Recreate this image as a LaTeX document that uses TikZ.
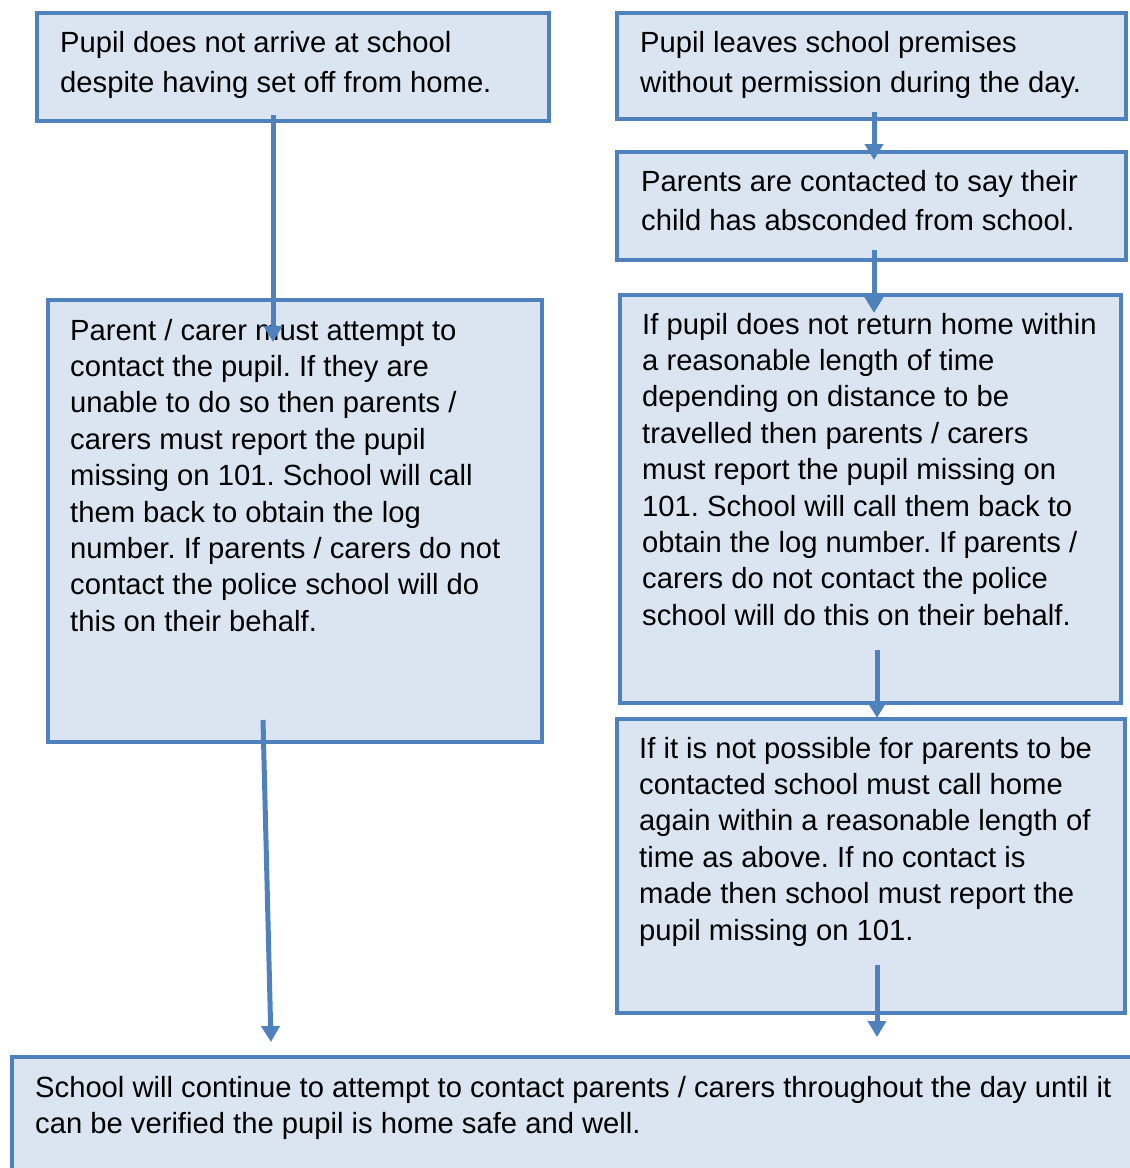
\documentclass[tikz,border=0pt]{standalone}
\usepackage{fontspec}
\setmainfont{Liberation Sans}
\usetikzlibrary{arrows.meta}
\definecolor{boxfill}{HTML}{DBE5F1}
\definecolor{boxline}{HTML}{4F81BD}
\frenchspacing
\begin{document}
\begin{tikzpicture}[x=1pt,y=-1pt,
  flowbox/.style={draw=boxline, fill=boxfill, line width=4pt, inner sep=0pt},
  boxtext/.style={anchor=north west, inner sep=0pt, align=left, font=\frenchspacing\fontsize{29.2}{36.4}\selectfont},
  widetext/.style={anchor=north west, inner sep=0pt, align=left, font=\frenchspacing\fontsize{29.2}{40}\selectfont},
  flowarrow/.style={draw=boxline, line width=5pt, -{Triangle[width=18pt,length=16pt]}}]
\useasboundingbox (0,0) rectangle (1130,1168);
\clip (0,0) rectangle (1130,1168);
% boxes
\node[flowbox, minimum width=512pt, minimum height=108pt] (A) at (293,67) {};
\node[flowbox, minimum width=509pt, minimum height=106pt] (B) at (871.5,66) {};
\node[flowbox, minimum width=509pt, minimum height=108pt] (C) at (871.5,206) {};
\node[flowbox, minimum width=494pt, minimum height=442pt] (D) at (295,521) {};
\node[flowbox, minimum width=501pt, minimum height=408pt] (E) at (870.5,499) {};
\node[flowbox, minimum width=508pt, minimum height=294pt] (F) at (871,866) {};
\node[flowbox, minimum width=1138pt, minimum height=133pt] (G) at (581,1123.5) {};
% texts
\node[widetext] (tA) at (60,24) {\strut Pupil does not arrive at school\\despite having set off from home.};
\node[widetext] (tB) at (640,24) {\strut Pupil leaves school premises\\without permission during the day.};
\node[boxtext, font=\fontsize{29.2}{39}\selectfont] (tC) at (641,163.7) {\strut Parents are contacted to say their\\child has absconded from school.};
\node[boxtext] (tD) at (70,314.5) {\strut Parent / carer must attempt to\\contact the pupil. If they are\\unable to do so then parents /\\carers must report the pupil\\missing on 101. School will call\\them back to obtain the log\\number. If parents / carers do not\\contact the police school will do\\this on their behalf.};
\node[boxtext] (tE) at (642,308.5) {\strut If pupil does not return home within\\a reasonable length of time\\depending on distance to be\\travelled then parents / carers\\must report the pupil missing on\\101. School will call them back to\\obtain the log number. If parents /\\carers do not contact the police\\school will do this on their behalf.};
\node[boxtext] (tF) at (639,732.5) {\strut If it is not possible for parents to be\\contacted school must call home\\again within a reasonable length of\\time as above. If no contact is\\made then school must report the\\pupil missing on 101.};
\node[boxtext, font=\fontsize{29.2}{36}\selectfont] (tG) at (35,1071.8) {\strut School will continue to attempt to contact parents / carers throughout the day until it\\can be verified the pupil is home safe and well.};
% arrow end points
\coordinate (a1) at (273,115);
\coordinate (a2) at (273,342);
\coordinate (b1) at (874,112);
\coordinate (b2) at (874,160);
\coordinate (c1) at (874,250);
\coordinate (c2) at (874,313);
\coordinate (d1) at (877,650);
\coordinate (d2) at (877,718);
\coordinate (e1) at (263,720);
\coordinate (e2) at (271,1042);
\coordinate (f1) at (877,965);
\coordinate (f2) at (877,1037);
\draw[flowarrow] (a1) -- (a2);
\draw[flowarrow] (b1) -- (b2);
\draw[flowarrow] (c1) -- (c2);
\draw[flowarrow] (d1) -- (d2);
\draw[flowarrow] (e1) -- (e2);
\draw[flowarrow] (f1) -- (f2);
\end{tikzpicture}
\end{document}
